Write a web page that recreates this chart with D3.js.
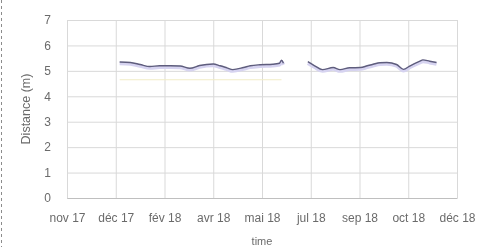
<!DOCTYPE html>
<html>
<head>
<meta charset="utf-8">
<script src="https://cdn.jsdelivr.net/npm/d3@7"></script>
<style>
  body { margin: 0; background: #fff; }
  svg { display: block; font-family: "Liberation Sans", Arial, sans-serif; }
</style>
</head>
<body>
<div id="vis"></div>
<script>
// chart data
const TICK_DATES = ["2017-11-07", "2017-12-27", "2018-02-15", "2018-04-06", "2018-05-26",
                    "2018-07-15", "2018-09-03", "2018-10-23", "2018-12-12"];
const Y_TICKS = [0, 1, 2, 3, 4, 5, 6, 7];
const MONTHS_FR = ["janv", "fév", "mars", "avr", "mai", "juin", "jul", "août", "sep", "oct", "nov", "déc"];

// distance series (null = gap in the record)
const DIST_DATES = ["2017-12-31", "2018-01-11", "2018-01-21", "2018-01-31", "2018-02-10", "2018-02-21",
                    "2018-03-03", "2018-03-13", "2018-03-23", "2018-04-06", "2018-04-13", "2018-04-20",
                    "2018-04-26", "2018-05-07", "2018-05-14", "2018-05-24", "2018-06-06", "2018-06-13",
                    "2018-06-15", "2018-06-17", "2018-06-18",
                    "2018-07-12", "2018-07-19", "2018-07-27", "2018-08-07", "2018-08-14", "2018-08-24",
                    "2018-09-04", "2018-09-11", "2018-09-17", "2018-09-24", "2018-10-01", "2018-10-11",
                    "2018-10-18", "2018-10-25", "2018-11-04", "2018-11-07", "2018-11-14", "2018-11-21"];
const DIST_VALUES = [5.35, 5.33, 5.25, 5.17, 5.20, 5.20,
                     5.19, 5.10, 5.21, 5.27, 5.20, 5.12,
                     5.05, 5.13, 5.20, 5.24, 5.26, 5.30,
                     5.42, 5.30, null,
                     5.36, 5.20, 5.05, 5.13, 5.05, 5.12,
                     5.13, 5.20, 5.26, 5.32, 5.33, 5.25,
                     5.06, 5.20, 5.38, 5.43, 5.38, 5.33];

// faint second series
const REF_DATES = ["2017-12-31", "2018-06-15"];
const REF_VALUES = [4.65, 4.65];

const WIDTH = 489;
const HEIGHT = 247;
const MARG = {left: 67, right: 32, top: 20, bottom: 49};
const VIS_WIDTH = WIDTH - MARG.left - MARG.right;
const VIS_HEIGHT = HEIGHT - MARG.top - MARG.bottom;

const parse = d3.timeParse("%Y-%m-%d");
const tickDates = TICK_DATES.map(parse);

const svg = d3.select("#vis")
  .append("svg")
    .attr("width", WIDTH)
    .attr("height", HEIGHT);

svg.append("defs").append("filter")
    .attr("id", "soft")
  .append("feGaussianBlur")
    .attr("stdDeviation", 0.45);

const root = svg.append("g").attr("filter", "url(#soft)");

// dashed frame edge on the left
root.append("line")
    .attr("x1", 1.5).attr("x2", 1.5)
    .attr("y1", 0).attr("y2", HEIGHT)
    .attr("stroke", "#8c8c8c")
    .attr("stroke-dasharray", "3,3");

const X_SCALE = d3.scaleTime()
    .domain([tickDates[0], tickDates[tickDates.length - 1]])
    .range([0, VIS_WIDTH]);
const Y_SCALE = d3.scaleLinear()
    .domain([0, 7])
    .range([VIS_HEIGHT, 0]);

const g = root.append("g")
    .attr("transform", "translate(" + MARG.left + "," + MARG.top + ")");

// grid
g.append("g")
    .call(d3.axisLeft(Y_SCALE).tickValues(Y_TICKS).tickSize(-VIS_WIDTH).tickFormat(""))
    .call(a => a.select(".domain").remove())
    .selectAll("line").attr("stroke", "#d9d9d9");
g.append("g")
    .call(d3.axisBottom(X_SCALE).tickValues(tickDates).tickSize(VIS_HEIGHT).tickFormat(""))
    .call(a => a.select(".domain").remove())
    .selectAll("line").attr("stroke", "#d9d9d9");

// x axis
const fmt = d => MONTHS_FR[d.getMonth()] + " " + String(d.getFullYear()).slice(2);
g.append("g")
    .attr("transform", "translate(0," + VIS_HEIGHT + ")")
    .call(d3.axisBottom(X_SCALE).tickValues(tickDates).tickSize(0).tickPadding(15).tickFormat(fmt))
    .call(a => a.select(".domain").attr("stroke", "#bfbfbf"))
    .selectAll("text")
      .attr("fill", "#6b6b6b")
      .attr("font-size", "12px");

// y axis
g.append("g")
    .call(d3.axisLeft(Y_SCALE).tickValues(Y_TICKS).tickSize(0).tickPadding(16).tickFormat(d3.format("d")))
    .call(a => a.select(".domain").remove())
    .selectAll("text")
      .attr("fill", "#6b6b6b")
      .attr("font-size", "12px");

// axis titles
root.append("text")
    .attr("transform", "translate(30," + (MARG.top + VIS_HEIGHT / 2) + ") rotate(-90)")
    .attr("text-anchor", "middle")
    .attr("fill", "#6b6b6b")
    .attr("font-size", "12.5px")
    .text("Distance (m)");
root.append("text")
    .attr("x", MARG.left + VIS_WIDTH / 2)
    .attr("y", 245)
    .attr("text-anchor", "middle")
    .attr("fill", "#6b6b6b")
    .attr("font-size", "11px")
    .text("time");

// series
const distData = DIST_DATES.map((d, i) => ({date: parse(d), value: DIST_VALUES[i]}));
const refData = REF_DATES.map((d, i) => ({date: parse(d), value: REF_VALUES[i]}));
const line = d3.line()
    .defined(d => d.value !== null)
    .x(d => X_SCALE(d.date))
    .y(d => Y_SCALE(d.value))
    .curve(d3.curveMonotoneX);

g.append("path")
    .datum(refData)
    .attr("d", line)
    .attr("fill", "none")
    .attr("stroke", "#f1ecc6")
    .attr("stroke-width", 1.2);

g.append("path")
    .datum(distData)
    .attr("d", line)
    .attr("fill", "none")
    .attr("stroke", "#d6d3f0")
    .attr("stroke-width", 3.5)
    .attr("transform", "translate(0,1.5)");

g.append("path")
    .datum(distData)
    .attr("d", line)
    .attr("fill", "none")
    .attr("stroke", "#5e5d7d")
    .attr("stroke-width", 1.4);
</script>
</body>
</html>
